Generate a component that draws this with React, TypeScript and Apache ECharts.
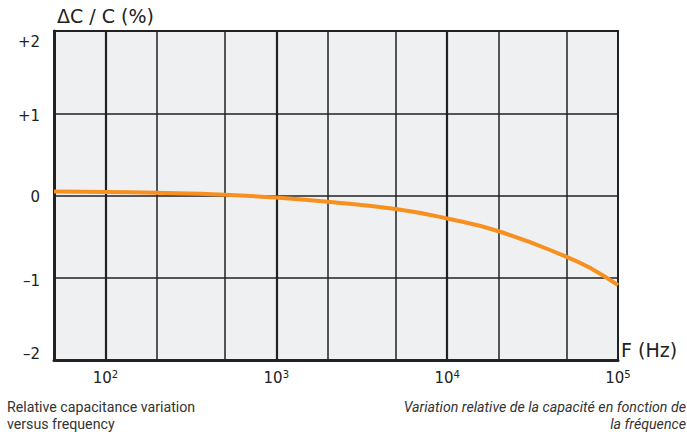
import React, { useEffect, useRef } from "react";
import * as echarts from "echarts";

const freqs = [50, 100, 200, 500, 1000, 2000, 5000, 10000, 20000, 50000, 70000, 100000];
const deltaC = [0.05, 0.044, 0.032, 0.008, -0.025, -0.075, -0.165, -0.28, -0.435, -0.745, -0.89, -1.09];
const majorGrid = [100, 1000, 10000];
const minorGrid = [200, 500, 2000, 5000, 20000, 50000];
const yTicks = [-2, -1, 0, 1, 2];
const captionEn = ["Relative capacitance variation", "versus frequency"];
const captionFr = ["Variation relative de la capacité en fonction de", "la fréquence"];

export default function App() {
  const ref = useRef<HTMLDivElement>(null);
  useEffect(() => {
    const chart = echarts.init(ref.current!, undefined, { renderer: "svg" });
    const font = "DejaVu Sans";
    const capFont = "Roboto";
    const yRich: Record<string, any> = {
      p2: { fontSize: 15, color: "#222", fontFamily: font, padding: [22, 0, 0, 0] },
      p1: { fontSize: 15, color: "#222", fontFamily: font, padding: [6, 0, 0, 0] },
      z: { fontSize: 15, color: "#222", fontFamily: font, padding: [2, 0, 0, 0] },
      m1: { fontSize: 15, color: "#222", fontFamily: font, padding: [6, 0, 0, 0] },
      m2: { fontSize: 15, color: "#222", fontFamily: font, padding: [0, 0, 12, 0] },
    };
    const cap = (text: string, x: number, y: number, right: boolean) => ({
      type: "text",
      x,
      y,
      style: {
        text,
        fontSize: 14.2,
        lineHeight: 15,
        fill: "#333",
        fontFamily: capFont,
        fontStyle: right ? "italic" : "normal",
        align: right ? "right" : "left",
        verticalAlign: "middle",
      },
    });
    chart.setOption({
      animation: false,
      backgroundColor: "#ffffff",
      grid: {
        left: 54,
        top: 31,
        right: 69,
        bottom: 76,
        show: true,
        backgroundColor: "#eff0f2",
        borderColor: "#222",
        borderWidth: 2,
      },
      xAxis: {
        type: "log",
        logBase: 10,
        min: 50,
        max: 100000,
        axisLine: { show: true, onZero: false, lineStyle: { color: "#222", width: 3 } },
        axisTick: { show: false },
        splitLine: { show: false },
        axisLabel: {
          margin: 9,
          showMinLabel: true,
          showMaxLabel: true,
          formatter: (v: number) => {
            const e = Math.round(Math.log10(v));
            if (Math.abs(v - Math.pow(10, e)) > 1e-6 * v) return "";
            return `{b|10}{s|${e}}`;
          },
          rich: {
            b: { fontSize: 15, color: "#222", fontFamily: font, verticalAlign: "bottom" },
            s: { fontSize: 10, color: "#222", fontFamily: font, verticalAlign: "top", padding: [0, 0, 6, 0] },
          },
        },
      },
      yAxis: {
        type: "value",
        min: yTicks[0],
        max: yTicks[yTicks.length - 1],
        interval: 1,
        axisLine: { show: true, lineStyle: { color: "#222", width: 3 } },
        axisTick: { show: false },
        splitLine: { show: true, lineStyle: { color: "#222", width: 1.5 } },
        axisLabel: {
          margin: 14,
          formatter: (v: number) => {
            if (v === 2) return "{p2|+2}";
            if (v === 1) return "{p1|+1}";
            if (v === 0) return "{z|0}";
            if (v === -1) return "{m1|\u20131}";
            return "{m2|\u20132}";
          },
          rich: yRich,
        },
      },
      series: [
        {
          type: "line",
          data: [],
          z: 1,
          silent: true,
          markLine: {
            silent: true,
            symbol: "none",
            label: { show: false },
            animation: false,
            data: [
              ...majorGrid.map((x) => ({ xAxis: x, lineStyle: { color: "#222", width: 2.2, type: "solid" } })),
              ...minorGrid.map((x) => ({ xAxis: x, lineStyle: { color: "#222", width: 1.5, type: "solid" } })),
            ],
          },
        },
        {
          type: "line",
          z: 5,
          data: freqs.map((f, i) => [f, deltaC[i]]),
          smooth: 0.5,
          showSymbol: false,
          symbol: "none",
          lineStyle: { color: "#f7901e", width: 4 },
        },
      ],
      graphic: [
        {
          type: "text",
          left: 57,
          top: 6,
          style: { text: "\u0394C / C (%)", fontSize: 19, fill: "#222", fontFamily: font },
        },
        {
          type: "text",
          left: 621,
          top: 340,
          style: { text: "F (Hz)", fontSize: 19, fill: "#222", fontFamily: font },
        },
        cap(captionEn[0], 7, 407, false),
        cap(captionEn[1], 7, 424, false),
        cap(captionFr[0], 686, 407, true),
        cap(captionFr[1], 686, 424, true),
      ],
    });
    return () => chart.dispose();
  }, []);
  return <div ref={ref} style={{ position: "fixed", left: 0, top: 0, width: 687, height: 436 }} />;
}
